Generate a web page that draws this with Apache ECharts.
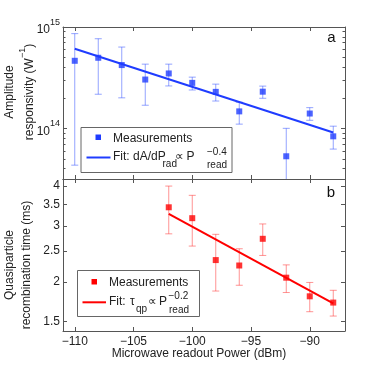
<!DOCTYPE html>
<html><head><meta charset="utf-8">
<script src="https://cdn.jsdelivr.net/npm/echarts@6/dist/echarts.min.js"></script>
<style>html,body{margin:0;padding:0;background:#fff}#c{width:374px;height:372px}</style>
</head><body><div id="c"></div>
<script>
// ---- data ----
const powerA = [-110,-108,-106,-104,-102,-100,-98,-96,-94,-92,-90,-88];
const respA    = [4.64e14,4.97e14,4.21e14,3.03e14,3.48e14,2.81e14,2.29e14,1.47e14,2.30e14,5.3e13,1.40e14,8.34e13];
const respHigh = [8.6e14,7.66e14,6.34e14,4.3e14,4.3e14,3.2e14,2.73e14,1.81e14,2.61e14,1.0e14,1.60e14,1.05e14];
const respLow  = [4.33e13,2.17e14,2.0e14,1.69e14,2.62e14,2.39e14,1.86e14,1.10e14,1.98e14,1.0e13,1.2e14,6.24e13];
const fitAx = [-110,-88];
const fitAy = [6.1e14,9.1e13];
const powerB = [-102,-100,-98,-96,-94,-92,-90,-88];
const tauB    = [3.43,3.17,2.34,2.25,2.73,2.06,1.80,1.72];
const tauHigh = [4.0,3.74,2.82,2.54,3.04,2.26,1.99,1.88];
const tauLow  = [2.83,2.59,1.87,1.95,2.42,1.85,1.61,1.56];
const fitBx = [-102,-88];
const fitBy = [3.27,1.71];
const xTicks = [-110,-105,-100,-95,-90];
const yTicksA = [1e14,1e15];
const yMinorA = [4e13,5e13,6e13,7e13,8e13,9e13,2e14,3e14,4e14,5e14,6e14,7e14,8e14,9e14];
const yTicksB = [1.5,2,2.5,3,3.5,4];
const xRange = [-111,-87];
const yRangeA = [13.5,15];          // log10 units
const yRangeB = [1.40,4.21];

const L = Math.log10;
const FONT = 'Liberation Sans';
const AX = '#555';
const BLUE = '#1f3cff', BLUE_ERR = 'rgba(60,90,255,0.55)';
const RED = '#ff0000', RED_ERR = 'rgba(255,60,60,0.55)';

function minus(v){ return (v<0?'\u2212':'') + Math.abs(v); }

function xAx(grid, pos, showLabel){
  return {type:'value', gridIndex:grid, position:pos, min:xRange[0], max:xRange[1],
    axisLine:{show:true, lineStyle:{color:AX,width:1}},
    axisTick:{show:true, inside:true, length:4, customValues:xTicks, lineStyle:{color:AX}},
    axisLabel:{show:showLabel, customValues:xTicks, formatter:minus, fontFamily:FONT, fontSize:12, color:'#222', margin:5},
    splitLine:{show:false}};
}
function yAx(grid, pos, min, max, ticks, len, showLine, label){
  return {type:'value', gridIndex:grid, position:pos, min:min, max:max,
    axisLine:{show:showLine, onZero:false, lineStyle:{color:AX,width:1}},
    axisTick:{show:true, inside:true, length:len, customValues:ticks.map(L), lineStyle:{color:AX}},
    axisLabel: label ? Object.assign({show:true, customValues:ticks.map(L)}, label) : {show:false},
    splitLine:{show:false}};
}

function errRender(color){
  return function(params, api){
    const x = api.value(0), lo = api.value(1), hi = api.value(2);
    const p1 = api.coord([x,hi]), p2 = api.coord([x,lo]);
    const w = 3.5, st = {stroke:color, lineWidth:1};
    return {type:'group', children:[
      {type:'line', shape:{x1:p1[0],y1:p1[1],x2:p2[0],y2:p2[1]}, style:st},
      {type:'line', shape:{x1:p1[0]-w,y1:p1[1],x2:p1[0]+w,y2:p1[1]}, style:st},
      {type:'line', shape:{x1:p2[0]-w,y1:p2[1],x2:p2[0]+w,y2:p2[1]}, style:st}
    ]};
  };
}

const labA = {fontFamily:FONT, color:'#222', margin:3,
  formatter: v => '{b|10}{s|' + Math.round(v) + '}',
  rich:{b:{fontFamily:FONT,fontSize:12,lineHeight:18,verticalAlign:'bottom',color:'#222'},
        s:{fontFamily:FONT,fontSize:9,lineHeight:10,verticalAlign:'top',color:'#222'}}};
const labB = {fontFamily:FONT, fontSize:12, color:'#222', margin:3,
  formatter: v => String(Math.round(Math.pow(10,v)*10)/10)};

function txt(x,y,text,size,extra){
  return Object.assign({type:'text', x:x, y:y, silent:true,
    style:{text:text, fontFamily:FONT, fontSize:size, fill:'#222', align:'left', verticalAlign:'middle'}}, extra||{});
}

const graphics = [
  // panel letters
  txt(331.5,38,'a',15,{style:{text:'a',fontFamily:FONT,fontSize:15,fill:'#111',align:'center',verticalAlign:'middle'}}),
  txt(331,193,'b',15,{style:{text:'b',fontFamily:FONT,fontSize:15,fill:'#111',align:'center',verticalAlign:'middle'}}),
  // y titles
  {type:'text', x:10, y:92, rotation:Math.PI/2, silent:true,
   style:{text:'Amplitude', fontFamily:FONT, fontSize:12, fill:'#222', align:'center', verticalAlign:'middle'}},
  {type:'text', x:27, y:92, rotation:Math.PI/2, silent:true,
   style:{text:'{n|responsivity (W}{s|\u22121}{n|)}', align:'center', verticalAlign:'middle',
     rich:{n:{fontFamily:FONT,fontSize:12,lineHeight:18,verticalAlign:'bottom',fill:'#222'},
           s:{fontFamily:FONT,fontSize:9,lineHeight:10,verticalAlign:'top',fill:'#222'}}}},
  {type:'text', x:10, y:265, rotation:Math.PI/2, silent:true,
   style:{text:'Quasiparticle', fontFamily:FONT, fontSize:12, fill:'#222', align:'center', verticalAlign:'middle'}},
  {type:'text', x:27, y:265, rotation:Math.PI/2, silent:true,
   style:{text:'recombination time (ms)', fontFamily:FONT, fontSize:12, fill:'#222', align:'center', verticalAlign:'middle'}},
  // x title
  {type:'text', x:199, y:354, silent:true,
   style:{text:'Microwave readout Power (dBm)', fontFamily:FONT, fontSize:12, fill:'#222', align:'center', verticalAlign:'middle'}},
  // legend A
  {type:'rect', shape:{x:81,y:127.5,width:151,height:45}, silent:true, style:{fill:'#fff', stroke:'#666', lineWidth:1}},
  {type:'rect', shape:{x:95.5,y:134.5,width:5.5,height:5.5}, silent:true, style:{fill:BLUE}},
  txt(113,138.3,'Measurements',12),
  {type:'line', shape:{x1:86.5,y1:157.5,x2:110.5,y2:157.5}, silent:true, style:{stroke:BLUE, lineWidth:2}},
  txt(113,157,'Fit: dA/dP',12),
  txt(162.5,164.5,'rad',10),
  txt(175,157,'\u221d',12),
  txt(186.5,157,'P',12),
  txt(207,152,'\u22120.4',10),
  txt(207,165.5,'read',10),
  // legend B
  {type:'rect', shape:{x:77.5,y:270.5,width:122,height:46}, silent:true, style:{fill:'#fff', stroke:'#666', lineWidth:1}},
  {type:'rect', shape:{x:91.5,y:279,width:5.5,height:5.5}, silent:true, style:{fill:RED}},
  txt(109,282.3,'Measurements',12),
  {type:'line', shape:{x1:82.5,y1:302.3,x2:106,y2:302.3}, silent:true, style:{stroke:RED, lineWidth:2}},
  txt(109,301.5,'Fit:',12),
  txt(130,301.5,'\u03c4',12),
  txt(136,309.5,'qp',10),
  txt(148,301.5,'\u221d',12),
  txt(159,301.5,'P',12),
  txt(168.5,296.5,'\u22120.2',10),
  txt(169,310,'read',10)
];

const option = {
  animation:false,
  backgroundColor:'#fff',
  grid:[
    {left:63, top:27, width:282, height:152},
    {left:63, top:179, width:282, height:152}
  ],
  xAxis:[ xAx(0,'bottom',false), xAx(0,'top',false), xAx(1,'bottom',true), xAx(1,'top',false) ],
  yAxis:[
    yAx(0,'left',yRangeA[0],yRangeA[1],yTicksA,4,true,labA),
    yAx(0,'right',yRangeA[0],yRangeA[1],yTicksA,4,true,null),
    yAx(0,'left',yRangeA[0],yRangeA[1],yMinorA,2.5,false,null),
    yAx(0,'right',yRangeA[0],yRangeA[1],yMinorA,2.5,false,null),
    yAx(1,'left',L(yRangeB[0]),L(yRangeB[1]),yTicksB,4,true,labB),
    yAx(1,'right',L(yRangeB[0]),L(yRangeB[1]),yTicksB,4,true,null)
  ],
  series:[
    {type:'custom', xAxisIndex:0, yAxisIndex:0, clip:true, renderItem:errRender(BLUE_ERR),
     data: powerA.map((x,i)=>[x, L(respLow[i]), L(respHigh[i])]), silent:true, z:1},
    {type:'line', xAxisIndex:0, yAxisIndex:0, data: fitAx.map((x,i)=>[x, L(fitAy[i])]),
     symbol:'none', lineStyle:{color:BLUE, width:2}, z:2, silent:true},
    {type:'scatter', xAxisIndex:0, yAxisIndex:0, data: powerA.map((x,i)=>[x, L(respA[i])]),
     symbol:'rect', symbolSize:6, itemStyle:{color:BLUE}, z:3, silent:true},
    {type:'custom', xAxisIndex:2, yAxisIndex:4, clip:true, renderItem:errRender(RED_ERR),
     data: powerB.map((x,i)=>[x, L(tauLow[i]), L(tauHigh[i])]), silent:true, z:1},
    {type:'line', xAxisIndex:2, yAxisIndex:4, data: fitBx.map((x,i)=>[x, L(fitBy[i])]),
     symbol:'none', lineStyle:{color:RED, width:2}, z:2, silent:true},
    {type:'scatter', xAxisIndex:2, yAxisIndex:4, data: powerB.map((x,i)=>[x, L(tauB[i])]),
     symbol:'rect', symbolSize:6, itemStyle:{color:RED}, z:3, silent:true}
  ],
  graphic: graphics
};
echarts.init(document.getElementById('c'), null, {renderer:'canvas'}).setOption(option);
</script>
</body></html>
